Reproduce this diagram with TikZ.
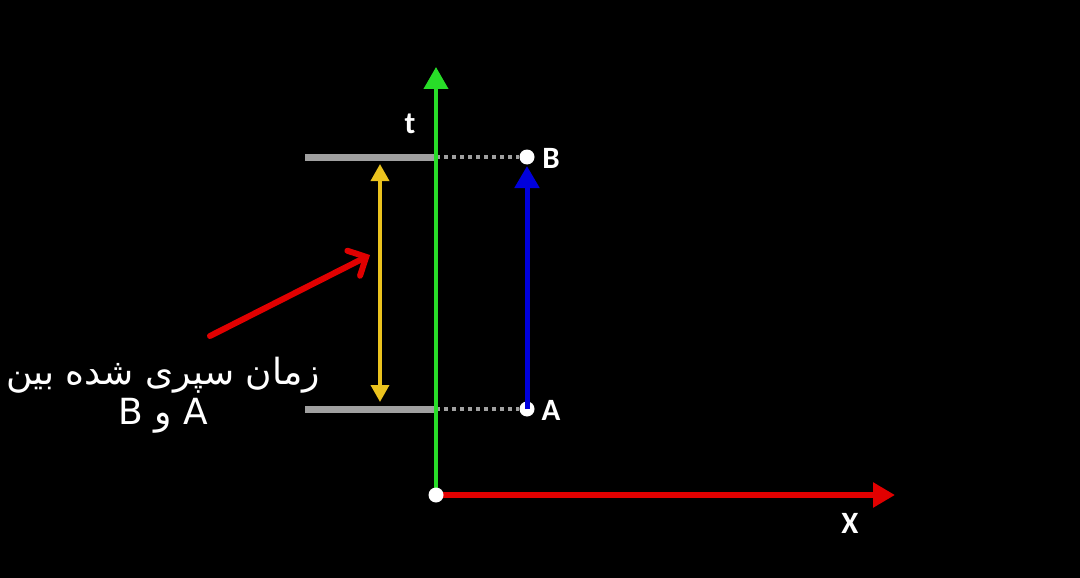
\documentclass[tikz,border=0pt]{standalone}
\usepackage{fontspec}
\usetikzlibrary{arrows.meta}
\TeXXeTstate=1
\setmainfont{Carlito}
\newfontfamily\lblfont{Carlito Bold}
\newfontfamily\arabicfont[Script=Arabic]{DejaVu Sans}
\definecolor{axgreen}{RGB}{40,220,40}
\definecolor{axred}{RGB}{225,0,0}
\definecolor{vblue}{RGB}{0,0,220}
\definecolor{vyellow}{RGB}{235,195,30}
\definecolor{bargray}{RGB}{160,160,160}
\tikzset{
  lbl/.style={text=white,font=\lblfont\fontsize{31}{33}\selectfont,inner sep=0pt},
  wdot/.style={circle,fill=white,draw=none,minimum size=15pt,inner sep=0pt},
  bar/.style={draw=bargray,line width=7pt},
  dots/.style={draw=bargray,line width=4pt,dash pattern=on 4pt off 4pt},
}
\begin{document}
\begin{tikzpicture}[x=1pt,y=-1pt]
\fill[black] (0,0) rectangle (1080,578);
\useasboundingbox (0,0) rectangle (1080,578);
% coordinates
\coordinate (O) at (436,495);
\coordinate (Ttop) at (436,67);
\coordinate (Xend) at (895,495);
\coordinate (Bbar) at (305,157);
\coordinate (Abar) at (305,409);
\coordinate (Bax) at (436,157);
\coordinate (Aax) at (436,409);
\coordinate (Ytop) at (380,164);
\coordinate (Ybot) at (380,402);
\coordinate (Rs) at (210,336);
\coordinate (Re) at (370,255);
\coordinate (Btip) at (527,166);
% bars
\draw[bar] (Bbar) -- (Bax);
\draw[bar] (Abar) -- (Aax);
% dots nodes
\node[wdot] (B) at (527,157) {};
\node[wdot] (A) at (527,409) {};
\draw[dots] (Bax) -- (B.west);
\draw[dots] (Aax) -- (A.west);
% axes
\draw[axgreen,line width=4pt,-{Triangle[length=22pt,width=24pt]}] (O) -- (Ttop);
\draw[axred,line width=6pt,-{Triangle[length=22pt,width=24pt]}] (O) -- (Xend);
\node[wdot] (Og) at (O) {};
% blue arrow
\draw[vblue,line width=5pt,-{Triangle[length=22pt,width=24pt]}] (A.center) -- (Btip);
% yellow double arrow
\draw[vyellow,line width=3.5pt,{Triangle[length=17pt,width=18pt]}-{Triangle[length=17pt,width=18pt]}] (Ytop) -- (Ybot);
% red pointer
\draw[axred,line width=6pt,line cap=round,-{Straight Barb[length=14pt,width=28pt,line cap=round]}] (Rs) -- (Re);
% labels
\node[lbl] (lB) at (551,158) {B};
\node[lbl] (lA) at (551,410) {A};
\node[lbl] (lt) at (410,124) {t};
\node[lbl] (lx) at (850,523) {X};
\node[text=white,align=center,inner sep=0pt,font=\arabicfont\fontsize{36}{40}\selectfont] (txt) at (163,395)
  {\beginR زمان سپری شده بین\endR\\ \beginR A و B\endR};
\end{tikzpicture}
\end{document}
